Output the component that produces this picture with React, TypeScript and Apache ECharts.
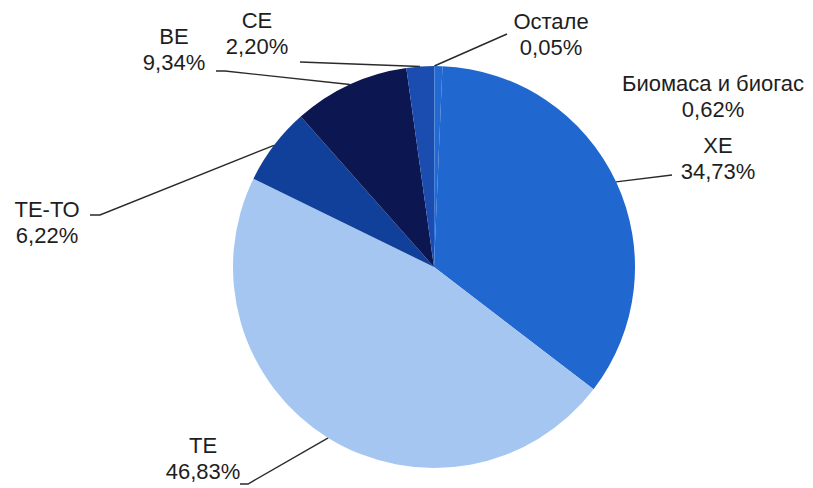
import React, { useEffect, useRef } from "react";
import * as echarts from "echarts";

const categories = ["Остале", "Биомаса и биогас", "ХЕ", "ТЕ", "ТЕ-ТО", "ВЕ", "СЕ"];
const shares = [0.05, 0.62, 34.73, 46.83, 6.22, 9.34, 2.2];
const colors = ["#2268d0", "#2369d2", "#2067cf", "#a6c6f2", "#10409a", "#0c1650", "#1b4db0"];

// label block centres and leader-line end points (layout only)
const labelPos: Record<string, { x: number; y: number; line: number[][] | null }> = {
  "Остале": { x: 551, y: 34, line: [[507, 34]] },
  "Биомаса и биогас": { x: 713, y: 96, line: null },
  "ХЕ": { x: 718, y: 158, line: [[672, 175]] },
  "ТЕ": { x: 203, y: 458, line: [[248, 484], [240, 484]] },
  "ТЕ-ТО": { x: 47, y: 222, line: [[100, 215], [90, 215]] },
  "ВЕ": { x: 174, y: 49, line: [[225, 71], [216, 71]] },
  "СЕ": { x: 257, y: 33, line: [[300, 62]] },
};

export default function App() {
  const ref = useRef<HTMLDivElement>(null);
  useEffect(() => {
    if (!ref.current) return;
    const chart = echarts.init(ref.current, null, { renderer: "svg" });
    chart.setOption({
      animation: false,
      backgroundColor: "#ffffff",
      series: [
        {
          type: "pie",
          center: [434, 267],
          radius: 201,
          startAngle: 90,
          clockwise: true,
          avoidLabelOverlap: false,
          itemStyle: { borderWidth: 0 },
          data: categories.map((c, i) => ({
            name: c,
            value: shares[i],
            itemStyle: { color: colors[i], borderWidth: 0 },
            labelLine: { show: labelPos[c].line !== null },
          })),
          label: {
            show: true,
            position: "outside",
            formatter: (p: any) => p.name + "\n" + p.value.toFixed(2).replace(".", ",") + "%",
            fontFamily: "Arial, 'Liberation Sans', sans-serif",
            fontSize: 22,
            lineHeight: 26,
            color: "#1e1e1e",
            align: "center",
          },
          labelLine: {
            show: true,
            lineStyle: { color: "#2a2a2a", width: 1.4 },
            smooth: false,
          },
          labelLayout: (params: any) => {
            const name = categories[params.dataIndex];
            const pos = labelPos[name];
            const out: any = {
              x: pos.x,
              y: pos.y,
              align: "center",
              verticalAlign: "middle",
            };
            if (pos.line && params.labelLinePoints) {
              out.labelLinePoints = [params.labelLinePoints[0], ...pos.line];
            }
            return out;
          },
        },
      ],
    });
    return () => chart.dispose();
  }, []);
  return (
    <div
      ref={ref}
      style={{ position: "fixed", left: 0, top: 0, width: 813, height: 488 }}
    />
  );
}
